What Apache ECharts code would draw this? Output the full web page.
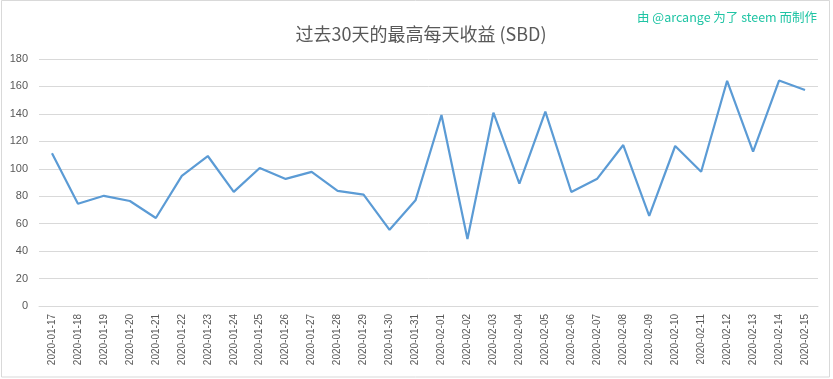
<!DOCTYPE html>
<html><head><meta charset="utf-8">
<script src="https://cdn.jsdelivr.net/npm/echarts@6/dist/echarts.min.js"></script>
<style>html,body{margin:0;padding:0;background:#fff}#c{width:833px;height:379px}</style>
</head><body><div id="c"></div>
<script>
const categories = ["2020-01-17","2020-01-18","2020-01-19","2020-01-20","2020-01-21","2020-01-22","2020-01-23","2020-01-24","2020-01-25","2020-01-26","2020-01-27","2020-01-28","2020-01-29","2020-01-30","2020-01-31","2020-02-01","2020-02-02","2020-02-03","2020-02-04","2020-02-05","2020-02-06","2020-02-07","2020-02-08","2020-02-09","2020-02-10","2020-02-11","2020-02-12","2020-02-13","2020-02-14","2020-02-15"];
const values = [111.3,74.5,80.3,76.5,64.1,94.8,109.3,83.2,100.6,92.6,97.7,83.9,81.1,55.5,77.0,139.2,48.8,140.9,89.2,141.6,83.1,92.8,117.3,65.7,116.6,97.8,164.1,112.5,164.3,157.4];
const yTicks = {min:0, max:180, interval:20};
const titleText = "过去30天的最高每天收益 (SBD)";
const watermark = "由 @arcange 为了 steem 而制作";

const chart = echarts.init(document.getElementById('c'), null, {renderer:'canvas'});
chart.setOption({
  animation:false,
  backgroundColor:'#ffffff',
  title:{text:titleText, left:416, top:20, textAlign:'center',
    textStyle:{fontSize:18, fontWeight:'normal', color:'#595959', fontFamily:'"Noto Sans CJK SC", sans-serif'}},
  graphic:[
    {type:'rect', shape:{x:1.5,y:0.5,width:828,height:376.5}, style:{fill:'none', stroke:'#d9d9d9', lineWidth:1}, silent:true},
    {type:'text', right:16, top:11, style:{text:watermark, fill:'#1fc4a4', fontSize:12.5, fontFamily:'"Noto Sans CJK SC", sans-serif'}}
  ],
  grid:{left:39, right:15, top:59, bottom:73, containLabel:false},
  xAxis:{type:'category', data:categories, boundaryGap:true,
    axisLine:{lineStyle:{color:'#d9d9d9', width:1}},
    axisTick:{show:false},
    axisLabel:{rotate:90, interval:0, color:'#595959', fontSize:10, margin:8, fontFamily:'"Liberation Sans", Arial, sans-serif'}},
  yAxis:{type:'value', min:yTicks.min, max:yTicks.max, interval:yTicks.interval,
    axisLine:{show:false}, axisTick:{show:false},
    splitLine:{lineStyle:{color:'#d9d9d9', width:1}},
    axisLabel:{color:'#595959', fontSize:11, margin:11, fontFamily:'"Liberation Sans", Arial, sans-serif'}},
  series:[{type:'line', data:values, showSymbol:false, symbol:'none',
    lineStyle:{color:'#5b9bd5', width:2.2}, itemStyle:{color:'#5b9bd5'}}]
});
</script></body></html>
